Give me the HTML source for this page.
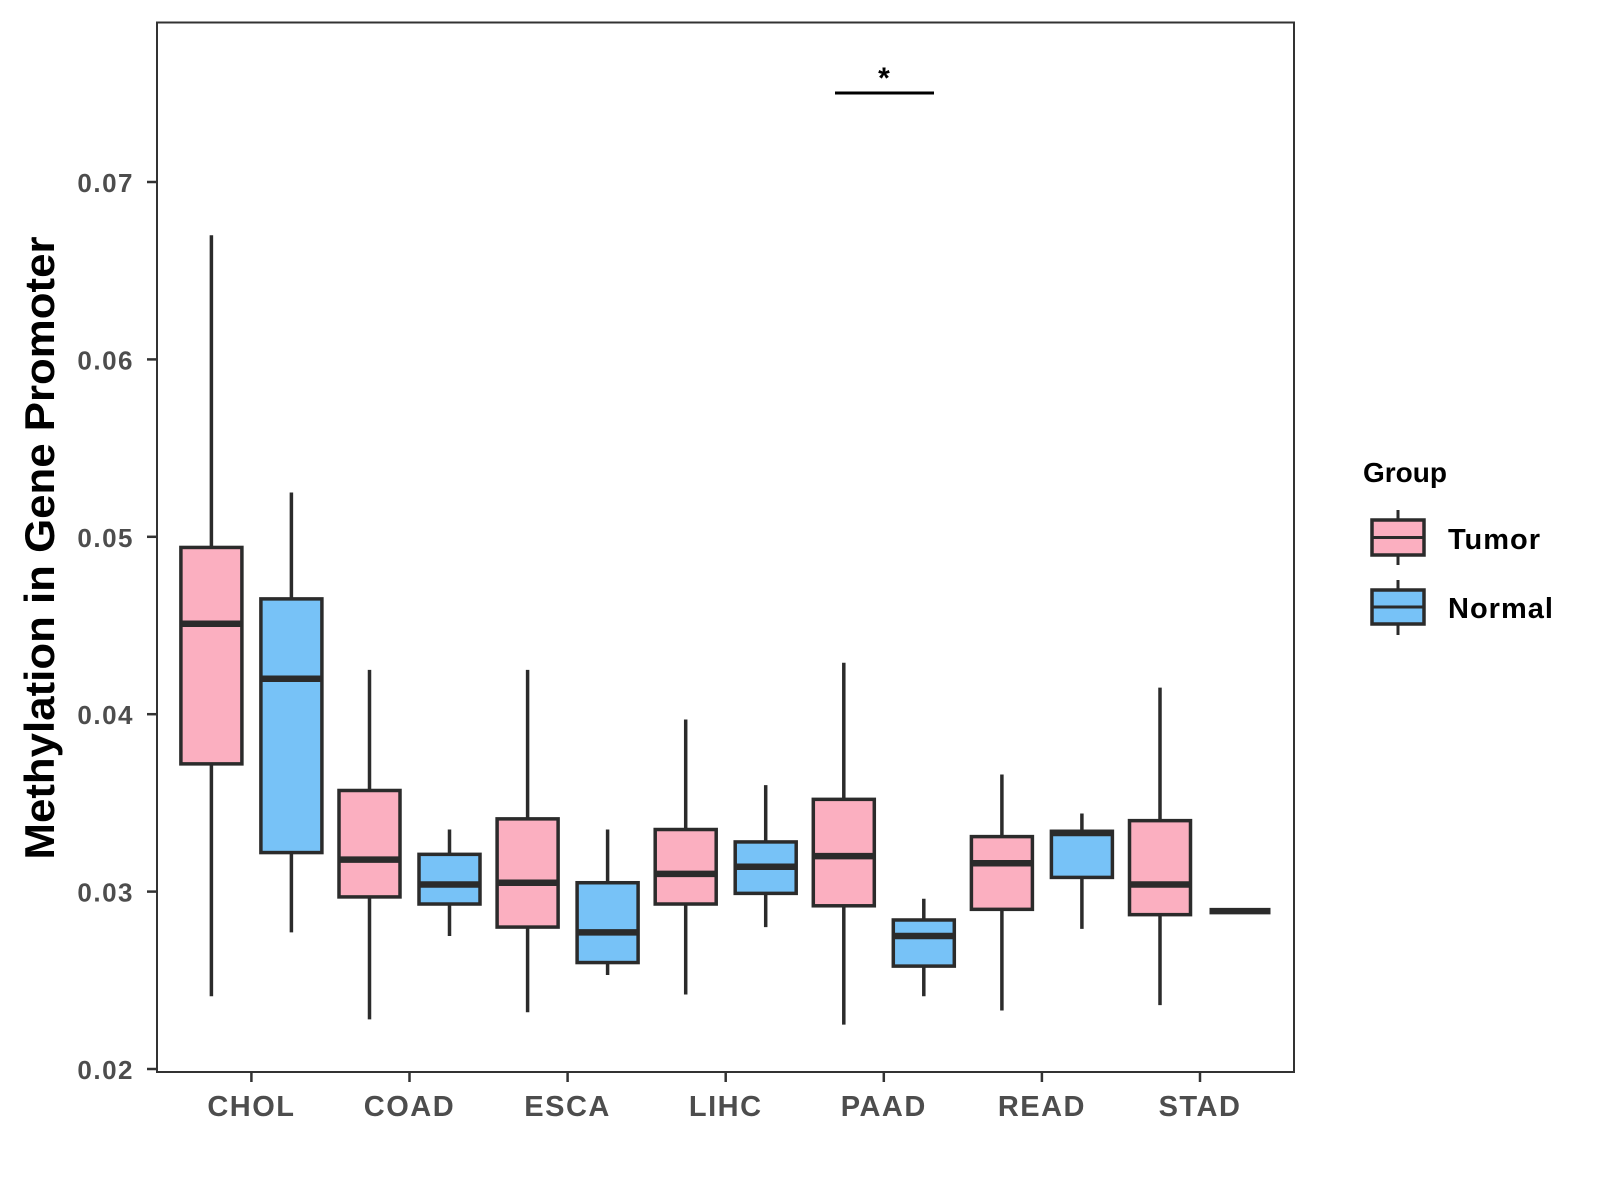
<!DOCTYPE html>
<html><head><meta charset="utf-8"><style>
html,body{margin:0;padding:0;background:#fff}
svg{display:block;font-family:"Liberation Sans",Arial,sans-serif}
</style></head><body>
<svg id="chart" width="1600" height="1200" viewBox="0 0 1600 1200" xmlns="http://www.w3.org/2000/svg">
<rect x="0" y="0" width="1600" height="1200" fill="#fff"/>
<g id="marks"></g>
<rect x="157" y="22.5" width="1137" height="1049.5" fill="none" stroke="#333" stroke-width="2"/>
<g id="yaxis"></g><g id="xaxis"></g>
<text transform="translate(54,548) rotate(-90)" text-anchor="middle" font-size="42" font-weight="bold" fill="#000" textLength="623" lengthAdjust="spacingAndGlyphs">Methylation in Gene Promoter</text>
<g>
<line x1="835" x2="934" y1="93" y2="93" stroke="#000" stroke-width="3"/>
<text x="884" y="88" text-anchor="middle" font-size="30" font-weight="bold">*</text>
</g>
<g>
<text x="1363" y="482" font-size="28" font-weight="bold">Group</text>
<g>
<line x1="1398" x2="1398" y1="510" y2="565" stroke="#2b2b2b" stroke-width="3"/>
<rect x="1372" y="520" width="52" height="35" fill="#fbafc0" stroke="#2b2b2b" stroke-width="3.5"/>
<line x1="1372" x2="1424" y1="537.5" y2="537.5" stroke="#2b2b2b" stroke-width="3"/>
<text x="1448" y="549" font-size="29" font-weight="bold" letter-spacing="1">Tumor</text></g>
<g>
<line x1="1398" x2="1398" y1="580" y2="635" stroke="#2b2b2b" stroke-width="3"/>
<rect x="1372" y="590" width="52" height="34" fill="#77c2f7" stroke="#2b2b2b" stroke-width="3.5"/>
<line x1="1372" x2="1424" y1="607" y2="607" stroke="#2b2b2b" stroke-width="3"/>
<text x="1448" y="618" font-size="29" font-weight="bold" letter-spacing="1">Normal</text></g>
</g>
</svg>
<script>
const categories=["CHOL","COAD","ESCA","LIHC","PAAD","READ","STAD"];
const yTicks=[0.02,0.03,0.04,0.05,0.06,0.07];
const yTickLabels=["0.02","0.03","0.04","0.05","0.06","0.07"];
const tumorMin=[0.0241,0.0228,0.0232,0.0242,0.0225,0.0233,0.0236];
const tumorQ1=[0.0372,0.0297,0.0280,0.0293,0.0292,0.0290,0.0287];
const tumorMed=[0.0451,0.0318,0.0305,0.0310,0.0320,0.0316,0.0304];
const tumorQ3=[0.0494,0.0357,0.0341,0.0335,0.0352,0.0331,0.0340];
const tumorMax=[0.0670,0.0425,0.0425,0.0397,0.0429,0.0366,0.0415];
const normalMin=[0.0277,0.0275,0.0253,0.0280,0.0241,0.0279,0.0289];
const normalQ1=[0.0322,0.0293,0.0260,0.0299,0.0258,0.0308,0.0289];
const normalMed=[0.0420,0.0304,0.0277,0.0314,0.0275,0.0333,0.0289];
const normalQ3=[0.0465,0.0321,0.0305,0.0328,0.0284,0.0334,0.0289];
const normalMax=[0.0525,0.0335,0.0335,0.0360,0.0296,0.0344,0.0289];

const NS="http://www.w3.org/2000/svg";
function y(v){return 1069-(v-0.02)*17740;}
function x(i){return 251.4+i*158.1;}
function mk(tag,attrs,parent){const e=document.createElementNS(NS,tag);for(const k in attrs)e.setAttribute(k,attrs[k]);parent.appendChild(e);return e;}
const marks=document.getElementById('marks');
const ya=document.getElementById('yaxis');
const xa=document.getElementById('xaxis');
yTicks.forEach((t,i)=>{
  const l=mk('line',{x1:147,x2:157,y1:y(t),y2:y(t),stroke:'#333','stroke-width':2.5},ya);
  
  
  const tx=mk('text',{x:134,y:y(t)+10,'text-anchor':'end','font-size':26,'font-weight':'bold','letter-spacing':1.5,fill:'#4d4d4d'},ya);
  tx.textContent=yTickLabels[i];
  
  
});
categories.forEach((c,i)=>{
  const l=mk('line',{x1:x(i),x2:x(i),y1:1072,y2:1082,stroke:'#333','stroke-width':2.5},xa);
  
  
  const tx=mk('text',{x:x(i),y:1116,'text-anchor':'middle','font-size':29,'font-weight':'bold','letter-spacing':1.5,fill:'#4d4d4d'},xa);
  tx.textContent=c;
  
  
});
function box(cx,mn,q1,md,q3,mx,fill,name){
  const g=mk('g',{},marks);
  
  
  const w=61;
  mk('line',{x1:cx,x2:cx,y1:y(mx),y2:y(mn),stroke:'#2b2b2b','stroke-width':3.5},g);
  if(q3>q1){
    mk('rect',{x:cx-w/2,y:y(q3),width:w,height:y(q1)-y(q3),fill:fill,stroke:'#2b2b2b','stroke-width':3.5},g);
  }
  mk('line',{x1:cx-w/2,x2:cx+w/2,y1:y(md),y2:y(md),stroke:'#2b2b2b','stroke-width':6.5},g);
}
categories.forEach((c,i)=>{
  box(x(i)-40,tumorMin[i],tumorQ1[i],tumorMed[i],tumorQ3[i],tumorMax[i],'#fbafc0','box-'+c.toLowerCase()+'-tumor');
  box(x(i)+40,normalMin[i],normalQ1[i],normalMed[i],normalQ3[i],normalMax[i],'#77c2f7','box-'+c.toLowerCase()+'-normal');
});
</script>
</body></html>
